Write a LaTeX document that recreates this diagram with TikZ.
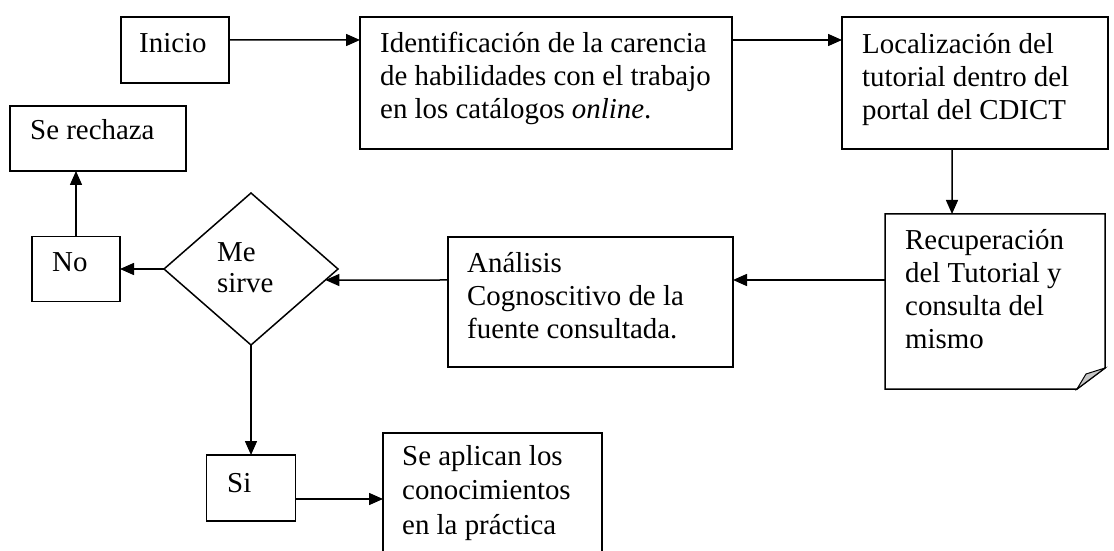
\documentclass[tikz,border=0pt]{standalone}
\usepackage{fontspec}
\setmainfont{Liberation Serif}
\usetikzlibrary{arrows.meta,shapes.geometric}
\newcommand{\ml}[1]{\begin{tabular}[t]{@{}l@{}}#1\end{tabular}}
\begin{document}
\begin{tikzpicture}[x=1bp,y=-1bp,
  box/.style={draw, line width=1.5bp, inner sep=0pt, outer sep=0pt},
  txt/.style={anchor=base west, inner sep=0pt, font=\fontsize{29}{33}\selectfont},
  arr/.style={line width=1.5bp, -{Triangle[length=14bp,width=12bp]}}]
\useasboundingbox (0,0) rectangle (1114,551);
\clip (0,0) rectangle (1114,551);
\fill[white] (0,0) rectangle (1114,551);

% boxes
\node[box, minimum width=108bp, minimum height=66bp] (inicio) at (175,50) {};
\node[box, minimum width=372bp, minimum height=132bp] (ident) at (546,83) {};
\node[box, minimum width=266bp, minimum height=132bp] (loc) at (975,83) {};
\node[inner sep=0pt, outer sep=0pt, minimum width=220bp, minimum height=175bp] (recup) at (995,301.5) {};
\draw[line width=1.5bp, line join=miter] (recup.north west) -- (recup.north east) -- (1105,368) -- (1077,389) -- (recup.south west) -- cycle;
\draw[line width=1bp, fill=gray!45] (1105,368) -- (1086,374) -- (1077,389) -- cycle;
\node[box, minimum width=285bp, minimum height=130bp] (ana) at (590.5,302) {};
\node[box, diamond, minimum width=174bp, minimum height=152bp] (dia) at (251,269) {};
\node[box, minimum width=88bp, minimum height=65bp] (no) at (76,269) {};
\node[box, minimum width=176bp, minimum height=65bp] (rech) at (98,138.5) {};
\node[box, minimum width=89bp, minimum height=66bp] (si) at (251,488) {};
\node[box, minimum width=219bp, minimum height=146bp] (apl) at (492.5,506) {};

% texts
\node[txt] (tinicio) at (139,53) {Inicio};
\node[txt] (tident) at (380,53) {\ml{Identificación de la carencia\\de habilidades con el trabajo\\en los catálogos \textit{online}.}};
\node[txt] (tloc) at (862,54) {\ml{Localización del\\tutorial dentro del\\portal del CDICT}};
\node[txt] (trecup) at (905,250) {\ml{Recuperación\\del Tutorial y\\consulta del\\mismo}};
\node[txt] (tana) at (467,273) {\ml{Análisis\\Cognoscitivo de la\\fuente consultada.}};
\node[txt, font=\fontsize{29}{31}\selectfont] (tdia) at (217,262) {\ml{Me\\sirve}};
\node[txt] (tno) at (52,272) {No};
\node[txt] (trech) at (30,140) {Se rechaza};
\node[txt] (tsi) at (227,492) {Si};
\node[txt, font=\fontsize{29}{35}\selectfont] (tapl) at (402,465) {\ml{Se aplican los\\conocimientos\\en la práctica}};

% connectors
\draw[arr] ([yshift=10bp]inicio.east) -- ([yshift=43bp]ident.west);
\draw[arr] ([yshift=43bp]ident.east) -- ([yshift=43bp]loc.west);
\draw[arr] ([xshift=-23bp]loc.south) -- ([xshift=-43bp]recup.north);
\draw[arr] ([yshift=21.5bp]recup.west) -- ([yshift=22bp]ana.east);
\path (dia.east) -- (dia.south) coordinate[pos=0.145] (diain);
\draw[arr] ([yshift=22bp]ana.west) -- (diain);
\draw[arr] (dia.west) -- (no.east);
\draw[arr] (no.north) -- (no.north |- rech.south);
\draw[arr] (dia.south) -- (si.north);
\draw[arr] ([yshift=-11bp]si.east) -- ([yshift=-11bp]si.east -| apl.west);
\end{tikzpicture}
\end{document}
